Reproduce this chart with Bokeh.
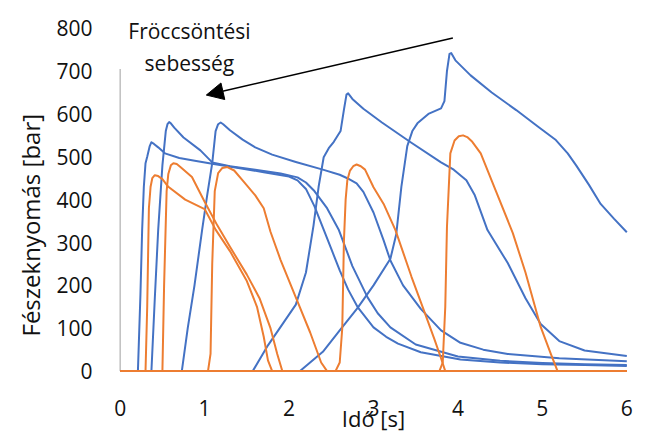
from bokeh.plotting import figure
from bokeh.models import Range1d, FixedTicker, Label, Arrow, NormalHead, Title
from bokeh.embed import file_html
from bokeh.resources import INLINE

# ---- data (time in s, cavity pressure in bar) ----
b1_t = [0, 0.21, 0.24, 0.26, 0.28, 0.30, 0.32, 0.35, 0.37, 0.40, 0.45, 0.53, 0.7, 0.9, 1.09, 1.4, 1.7, 2.0, 2.1, 2.2, 2.3, 2.41, 2.5, 2.6, 2.7, 2.81, 3.0, 3.15, 3.29, 3.56, 4.03, 4.5, 5.0, 5.5, 6.0]
b1_p = [0, 0, 180, 329, 430, 485, 500, 525, 534, 530, 522, 508, 497, 490, 484, 474, 464, 454, 445, 425, 385, 330, 285, 235, 190, 150, 102, 80, 64, 44, 27, 20, 16, 14, 12]

b2_t = [0, 0.37, 0.41, 0.45, 0.50, 0.54, 0.56, 0.58, 0.60, 0.64, 0.75, 0.95, 1.09, 1.3, 1.6, 1.9, 2.1, 2.2, 2.3, 2.45, 2.59, 2.75, 2.93, 3.05, 3.2, 3.5, 4.0, 4.5, 5.0, 5.5, 6.0]
b2_p = [0, 0, 170, 329, 480, 560, 576, 581, 578, 568, 545, 515, 487, 478, 470, 461, 452, 440, 420, 380, 329, 245, 172, 135, 102, 62, 34, 24, 19, 16, 14]

b3_t = [0, 0.73, 0.8, 0.88, 0.97, 1.03, 1.09, 1.13, 1.16, 1.19, 1.22, 1.3, 1.45, 1.6, 1.8, 2.08, 2.4, 2.6, 2.69, 2.8, 2.88, 3.0, 3.12, 3.2, 3.35, 3.56, 3.8, 4.03, 4.3, 4.59, 5.2, 6.0]
b3_p = [0, 0, 100, 200, 329, 410, 485, 560, 576, 580, 576, 562, 540, 522, 505, 488, 470, 458, 450, 438, 418, 370, 305, 258, 200, 145, 95, 66, 50, 40, 30, 23]

b4_t = [0, 1.57, 1.75, 1.9, 2.08, 2.2, 2.29, 2.35, 2.41, 2.47, 2.53, 2.61, 2.65, 2.68, 2.70, 2.75, 2.88, 3.1, 3.44, 3.8, 3.95, 4.1, 4.2, 4.35, 4.59, 4.8, 4.98, 5.2, 5.5, 6.0]
b4_p = [0, 0, 60, 103, 155, 230, 340, 430, 499, 520, 535, 560, 610, 645, 648, 635, 612, 580, 534, 487, 470, 445, 410, 329, 252, 170, 110, 70, 48, 35]

b5_t = [0, 2.13, 2.4, 2.6, 2.81, 3.0, 3.2, 3.27, 3.33, 3.40, 3.46, 3.52, 3.65, 3.8, 3.84, 3.87, 3.90, 3.92, 3.97, 4.15, 4.4, 4.69, 4.95, 5.16, 5.3, 5.4, 5.55, 5.69, 5.85, 6.0]
b5_p = [0, 0, 45, 95, 147, 200, 262, 320, 430, 525, 560, 578, 600, 613, 630, 700, 740, 742, 725, 690, 650, 609, 570, 539, 508, 480, 435, 390, 355, 324]

o1_t = [0, 0.30, 0.32, 0.34, 0.36, 0.38, 0.41, 0.45, 0.5, 0.57, 0.77, 1.0, 1.13, 1.3, 1.5, 1.62, 1.7, 1.75, 1.8, 6.0]
o1_p = [0, 0, 150, 380, 430, 450, 457, 455, 448, 430, 400, 378, 330, 280, 210, 150, 80, 25, 0, 0]

o2_t = [0, 0.50, 0.52, 0.55, 0.57, 0.60, 0.63, 0.67, 0.72, 0.85, 1.0, 1.15, 1.3, 1.5, 1.65, 1.78, 1.86, 1.92, 6.0]
o2_p = [0, 0, 200, 420, 460, 480, 485, 483, 475, 453, 395, 340, 290, 225, 170, 100, 40, 0, 0]

o3_t = [0, 1.04, 1.07, 1.09, 1.12, 1.16, 1.21, 1.27, 1.35, 1.45, 1.6, 1.7, 1.78, 1.9, 2.08, 2.25, 2.38, 2.45, 6.0]
o3_p = [0, 0, 40, 250, 420, 462, 474, 476, 468, 445, 410, 380, 325, 259, 172, 90, 20, 0, 0]

o4_t = [0, 2.55, 2.6, 2.63, 2.65, 2.67, 2.69, 2.72, 2.76, 2.8, 2.85, 2.9, 3.0, 3.12, 3.26, 3.45, 3.6, 3.72, 3.8, 3.85, 6.0]
o4_p = [0, 0, 20, 100, 305, 400, 445, 467, 478, 482, 478, 470, 429, 390, 329, 220, 140, 75, 30, 0, 0]

o5_t = [0, 3.78, 3.82, 3.85, 3.87, 3.91, 3.96, 4.01, 4.06, 4.11, 4.17, 4.27, 4.45, 4.65, 4.8, 4.98, 5.1, 5.18, 6.0]
o5_p = [0, 0, 20, 150, 336, 508, 538, 548, 550, 546, 535, 508, 420, 322, 230, 103, 40, 0, 0]

blue_series = [(b1_t, b1_p), (b2_t, b2_p), (b3_t, b3_p), (b4_t, b4_p), (b5_t, b5_p)]
orange_series = [(o1_t, o1_p), (o2_t, o2_p), (o3_t, o3_p), (o4_t, o4_p), (o5_t, o5_p)]

x_ticks = [0, 1, 2, 3, 4, 5, 6]
y_ticks = [0, 100, 200, 300, 400, 500, 600, 700, 800]
axis_line_top = 705

annot_line1 = "Fröccsöntési"
annot_line2 = "sebesség"
arrow_from = (3.94, 777)
arrow_to = (1.02, 644)

BLUE = "#4472C4"
ORANGE = "#ED7D31"
FONT = "Open Sans"
TXT = "#111111"

p = figure(width=645, height=435, x_range=Range1d(-0.02, 6.02), y_range=Range1d(-8, 860),
           output_backend="svg", toolbar_location=None,
           min_border_left=118, min_border_right=17, min_border_top=2, min_border_bottom=60)
p.background_fill_color = "white"
p.border_fill_color = "white"
p.outline_line_color = None
p.grid.visible = False

for ax in (p.xaxis, p.yaxis):
    ax.axis_line_color = None
    ax.major_tick_line_color = None
    ax.minor_tick_line_color = None
    ax.major_tick_out = 0
    ax.major_tick_in = 0
    ax.major_label_text_font = FONT
    ax.major_label_text_font_size = "21px"
    ax.major_label_text_color = TXT
    ax.axis_label_text_font = FONT
    ax.axis_label_text_font_style = "normal"
    ax.axis_label_text_color = TXT

p.xaxis.ticker = FixedTicker(ticks=x_ticks)
p.yaxis.ticker = FixedTicker(ticks=y_ticks)
p.xaxis.major_label_standoff = 25
p.yaxis.major_label_standoff = 26
p.xaxis.axis_label = "Idő [s]"
p.xaxis.axis_label_text_font_size = "22px"
p.xaxis.axis_label_standoff = -16

# vertical axis title, placed along the 0-700 part like the original
p.add_layout(Title(text="Fészeknyomás [bar]", align="left", offset=38, standoff=14,
                   text_font=FONT, text_font_size="24px", text_font_style="normal",
                   text_color=TXT), "left")

# vertical axis line (stops around 700)
p.segment(x0=[0], y0=[0], x1=[0], y1=[axis_line_top], line_color="#bfbfbf", line_width=1.5)

for t, pr in blue_series:
    p.line(t, pr, line_color=BLUE, line_width=2, line_join="round")
for t, pr in orange_series:
    p.line(t, pr, line_color=ORANGE, line_width=2, line_join="round")

p.add_layout(Arrow(end=NormalHead(size=17, fill_color="black", line_color="black"),
                   x_start=arrow_from[0], y_start=arrow_from[1],
                   x_end=arrow_to[0], y_end=arrow_to[1],
                   line_color="black", line_width=1.5))

p.add_layout(Label(x=0.82, y=793, text=annot_line1, text_align="center", text_baseline="middle",
                   text_font=FONT, text_font_size="21px", text_color=TXT))
p.add_layout(Label(x=0.82, y=718, text=annot_line2, text_align="center", text_baseline="middle",
                   text_font=FONT, text_font_size="21px", text_color=TXT))

open("out.html", "w").write(file_html(p, INLINE))
